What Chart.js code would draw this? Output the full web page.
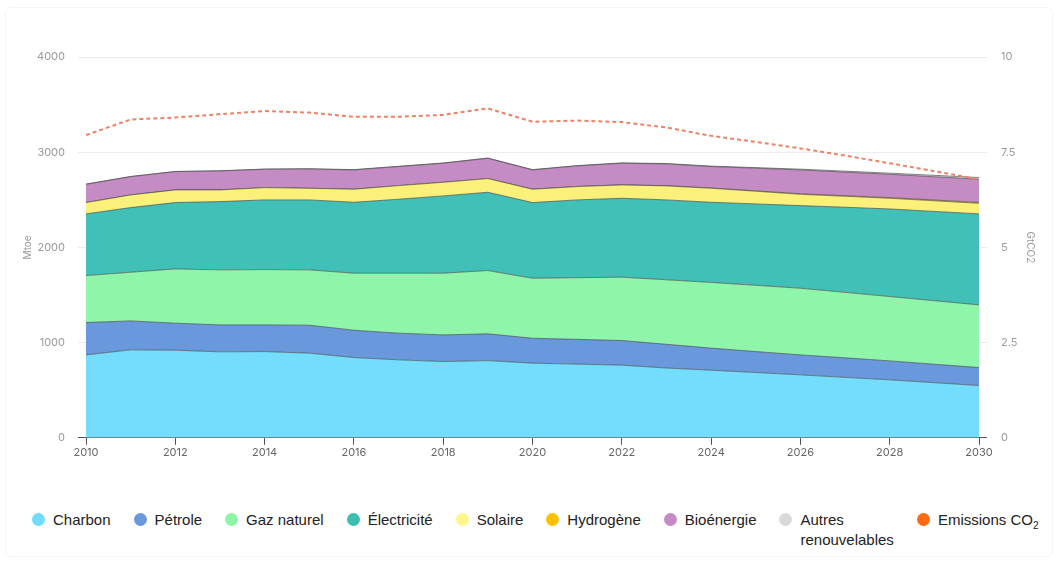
<!DOCTYPE html>
<html>
<head>
<meta charset="utf-8">
<script src="https://cdn.jsdelivr.net/npm/chart.js@4"></script>
<style>
  body { margin: 0; background: #fff; }
  #wrap { position: relative; width: 1059px; height: 563px; overflow: hidden; }
  #frame { position: absolute; left: 5px; top: 7px; width: 1046px; height: 548px; border: 1px solid #f5f5f5; border-radius: 6px; }
  #chartBox { position: absolute; left: 0; top: 0; width: 1059px; height: 470px; }
  #legend { position: absolute; left: 32px; top: 510px; display: flex; gap: 23px; align-items: flex-start;
    font-family: "Liberation Sans", Arial, sans-serif; font-size: 15px; color: #222; line-height: 20px; }
  .item { display: flex; align-items: flex-start; }
  .dot { width: 13px; height: 13px; border-radius: 50%; margin: 3px 8px 0 0; flex: none; }
</style>
</head>
<body>
<div id="wrap">
  <div id="frame"></div>
  <div id="chartBox"><canvas id="energyChart"></canvas></div>
  <div id="legend"></div>
</div>
<script>
const years = [2010, 2011, 2012, 2013, 2014, 2015, 2016, 2017, 2018, 2019, 2020,
  2021, 2022, 2023, 2024, 2025, 2026, 2027, 2028, 2029, 2030];

// Mtoe
const charbon = [871, 924, 920, 903, 906, 889, 843, 819, 801, 811, 784, 774, 763, 733, 710, 686, 661, 635, 609, 579, 549];
const petrole = [340, 304, 284, 283, 280, 294, 287, 280, 280, 281, 262, 260, 259, 249, 232, 220, 210, 205, 199, 194, 189];
const gazNaturel = [493, 511, 570, 578, 581, 581, 599, 630, 648, 665, 630, 648, 665, 678, 690, 696, 700, 688, 676, 667, 658];
const electricite = [648, 679, 697, 717, 732, 735, 745, 777, 812, 822, 795, 817, 829, 839, 842, 855, 868, 894, 920, 938, 956];
const solaire = [119, 133, 133, 123, 129, 122, 137, 143, 143, 144, 140, 140, 140, 147, 147, 133, 119, 115, 112, 112, 111];
const hydrogene = [0, 0, 0, 0, 0, 0, 0, 0, 0, 0, 1, 1, 2, 2, 3, 4, 5, 6, 7, 8, 10];
const bioenergie = [192, 192, 192, 199, 193, 203, 203, 200, 200, 213, 202, 216, 226, 229, 225, 238, 251, 248, 245, 244, 243];
const autresRenouvelables = [2, 2, 2, 2, 2, 2, 3, 3, 3, 3, 3, 3, 4, 4, 5, 6, 8, 10, 12, 15, 18];

// GtCO2
const emissionsCO2 = [7.95, 8.36, 8.41, 8.50, 8.58, 8.54, 8.43, 8.43, 8.48, 8.65, 8.30,
  8.33, 8.29, 8.15, 7.93, 7.77, 7.60, 7.41, 7.21, 7.00, 6.79];

const leftTicks = [0, 1000, 2000, 3000, 4000];
const rightTicks = [0, 2.5, 5, 7.5, 10];

const series = [
  { label: 'Charbon', data: charbon, color: '#74dcfd', legend: '#6fdcff' },
  { label: 'Pétrole', data: petrole, color: '#6a98dc', legend: '#6b98dc' },
  { label: 'Gaz naturel', data: gazNaturel, color: '#8ef5aa', legend: '#8ef5a6' },
  { label: 'Électricité', data: electricite, color: '#40c0b6', legend: '#3bbfb0' },
  { label: 'Solaire', data: solaire, color: '#fbf07a', legend: '#fff58a' },
  { label: 'Hydrogène', data: hydrogene, color: '#fbbf0a', legend: '#ffc000' },
  { label: 'Bioénergie', data: bioenergie, color: '#c48bc4', legend: '#c48bc4' },
  { label: 'Autres<br>renouvelables', data: autresRenouvelables, color: '#d9d9d9', legend: '#d9d9d9' }
];

const toPoints = arr => arr.map((v, i) => ({ x: years[i], y: v }));

const datasets = series.map((s, i) => ({
  type: 'line',
  label: s.label,
  data: toPoints(s.data),
  backgroundColor: s.color,
  borderColor: 'rgba(70, 70, 70, 0.65)',
  borderWidth: 1,
  fill: i === 0 ? 'origin' : '-1',
  pointRadius: 0,
  tension: 0,
  yAxisID: 'y',
  order: 2
}));

datasets.push({
  type: 'line',
  label: 'Emissions CO2',
  data: toPoints(emissionsCO2),
  borderColor: '#ee8266',
  borderWidth: 2,
  borderDash: [4, 3],
  fill: false,
  pointRadius: 0,
  tension: 0,
  yAxisID: 'y2',
  order: 1
});

const tickFont = { family: 'Inter', size: 11 };
const gridColor = ctx => (ctx.tick && ctx.tick.value === 0) ? '#555555' : '#ececec';

new Chart(document.getElementById('energyChart'), {
  data: { datasets },
  options: {
    responsive: true,
    maintainAspectRatio: false,
    animation: false,
    layout: { padding: { left: 18, right: 19, top: 57, bottom: 10 } },
    plugins: { legend: { display: false }, tooltip: { enabled: false } },
    scales: {
      x: {
        type: 'linear',
        min: 2010,
        max: 2030,
        ticks: { stepSize: 2, color: '#666', font: tickFont, padding: 1, callback: v => String(v) },
        grid: { drawOnChartArea: false, color: '#555', tickLength: 7 },
        border: { display: false }
      },
      y: {
        stacked: true,
        min: 0,
        max: 4000,
        afterBuildTicks: scale => { scale.ticks = leftTicks.map(v => ({ value: v })); },
        afterFit: scale => { scale.width = 68; },
        ticks: { color: '#999', font: tickFont, padding: 13, callback: v => String(v) },
        grid: { color: gridColor, tickLength: 8 },
        border: { display: false },
        title: { display: true, text: 'Mtoe', color: '#999', font: { family: 'Inter', size: 10 } }
      },
      y2: {
        position: 'right',
        min: 0,
        max: 10,
        afterBuildTicks: scale => { scale.ticks = rightTicks.map(v => ({ value: v })); },
        afterFit: scale => { scale.width = 61; },
        ticks: { color: '#999', font: tickFont, padding: 14, callback: v => String(v) },
        grid: { drawOnChartArea: false, color: gridColor, tickLength: 8 },
        border: { display: false },
        title: { display: true, text: 'GtCO2', color: '#999', font: { family: 'Inter', size: 10 } }
      }
    }
  }
});

// legend below the chart
const legendEl = document.getElementById('legend');
series.forEach(s => {
  const item = document.createElement('div');
  item.className = 'item';
  item.innerHTML = `<span class="dot" style="background:${s.legend}"></span><span>${s.label}</span>`;
  legendEl.appendChild(item);
});
const co2Item = document.createElement('div');
co2Item.className = 'item';
co2Item.innerHTML = '<span class="dot" style="background:#ff6a13"></span><span>Emissions CO<sub style="font-size:10px">2</sub></span>';
legendEl.appendChild(co2Item);
</script>
</body>
</html>
